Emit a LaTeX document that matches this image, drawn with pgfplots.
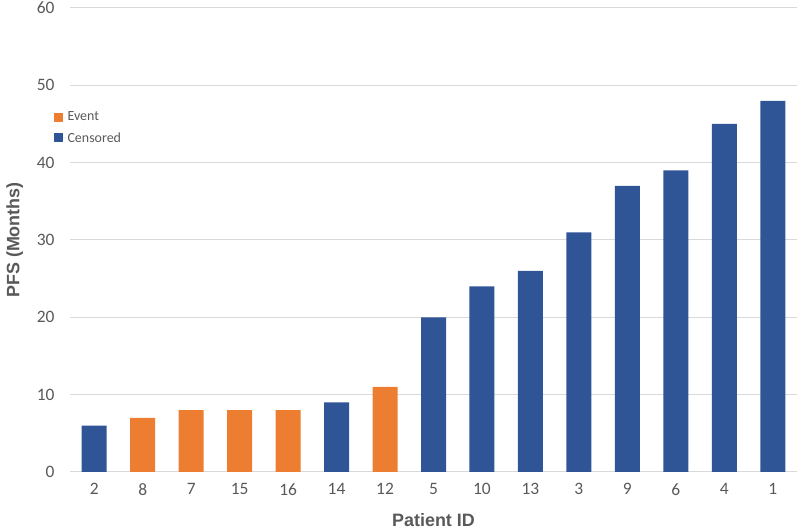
\documentclass[border=0pt]{standalone}
\usepackage{pgfplots}
\pgfplotsset{compat=1.18}
\usepackage{fontspec}
\setmainfont{Carlito}
\newfontfamily\arialfont{Liberation Sans}
\definecolor{evt}{RGB}{237,125,49}
\definecolor{cen}{RGB}{47,85,151}
\definecolor{tick}{RGB}{89,89,89}
\definecolor{gridc}{RGB}{217,217,217}
\begin{document}
\begin{tikzpicture}[x=1bp,y=1bp]
\path[use as bounding box] (0,0) rectangle (800,529);
\begin{axis}[
  at={(70bp,57bp)}, anchor=south west,
  scale only axis, width=727bp, height=464bp,
  xmin=-0.5, xmax=14.5, ymin=0, ymax=60,
  ytick={0,10,...,60},
  xtick={0,...,14},
  xticklabels={2,8,7,15,16,14,12,5,10,13,3,9,6,4,1},
  axis line style={draw=none},
  major tick length=0pt,
  ymajorgrids, major grid style={gridc, line width=1pt},
  extra y ticks={0}, extra y tick labels={},
  extra y tick style={grid style={gridc,line width=1.2pt}},
  tick label style={font=\fontsize{17.5}{20}\selectfont, text=tick},
  /pgf/number format/assume math mode=true,
  yticklabel style={xshift=-12bp},
  xticklabel style={yshift=-8bp},
  xlabel={\arialfont\bfseries Patient ID},
  ylabel={\arialfont\bfseries PFS (Months)},
  label style={font=\fontsize{18}{21}\selectfont, text=tick},
  xlabel style={at={(0.5,0)}, anchor=center, yshift=-48bp},
  ylabel style={at={(-0.076,0.5)}, anchor=center},
  legend style={draw=none, fill=none, at={(-0.027,0.785)}, anchor=north west,
    font=\fontsize{14}{16}\selectfont, text=tick, row sep=6bp,
    legend cell align=left},
  legend image code/.code={\fill[#1] (0bp,-4.5bp) rectangle (9bp,4.5bp);
    \path (0bp,0bp) -- (12bp,0bp);},
]
\addplot[ybar, bar width=25bp, bar shift=0pt, fill=evt, draw=none] coordinates {
 (1,7) (2,8) (3,8) (4,8) (6,11)};
\addlegendentry{Event}
\addplot[ybar, bar width=25bp, bar shift=0pt, fill=cen, draw=none] coordinates {
 (0,6) (5,9) (7,20) (8,24) (9,26) (10,31) (11,37) (12,39) (13,45) (14,48)};
\addlegendentry{Censored}
\end{axis}
\end{tikzpicture}
\end{document}
